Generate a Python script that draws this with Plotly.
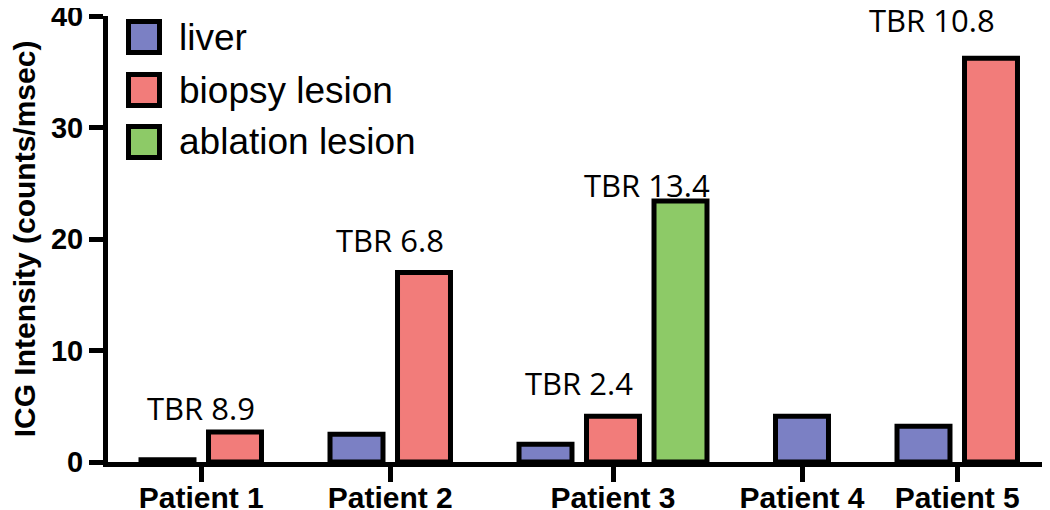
import plotly.graph_objects as go

# data
patients = ["Patient 1", "Patient 2", "Patient 3", "Patient 4", "Patient 5"]
series_names = ["liver", "biopsy lesion", "ablation lesion"]
liver = [0.2, 2.5, 1.6, 4.1, 3.2]
biopsy = [2.7, 17.0, 4.1, None, 36.2]
ablation = [None, None, 23.4, None, None]
tbr_labels = ["TBR 8.9", "TBR 6.8", "TBR 2.4", "TBR 13.4", "TBR 10.8"]
tbr_patient = [0, 1, 2, 2, 4]
y_ticks = [0, 10, 20, 30, 40]

colors = ["#7b80c4", "#f27c7a", "#8dca67"]

# layout constants, in screen pixels; the page body adds an 8px margin
W, H = 1050, 510
OFF = 8
PLOT_L, PLOT_R, PLOT_T, PLOT_B = 108, 1048, 16, 462
L, T = PLOT_L - OFF, PLOT_T - OFF
R, B = W - (PLOT_R - OFF), H - (PLOT_B - OFF)
GAP = 1.8       # distance between patient groups, in bar slots
BAR_W = 0.785   # bar width in slots
OUTLINE = 5

# place the bars: consecutive slots inside a patient, wider gap between patients
values = [liver, biopsy, ablation]
pos = [[None] * len(patients) for _ in values]
centers = []
cursor = 0.0
for i in range(len(patients)):
    slots = []
    for s, vals in enumerate(values):
        if vals[i] is not None:
            pos[s][i] = cursor
            slots.append(cursor)
            cursor += 1
    centers.append(sum(slots) / len(slots))
    cursor += GAP - 1

fig = go.Figure()
for name, vals, p, color in zip(series_names, values, pos, colors):
    xs = [x for x, v in zip(p, vals) if v is not None]
    ys = [v for v in vals if v is not None]
    fig.add_trace(go.Bar(
        x=xs, y=ys, name=name, width=BAR_W,
        marker=dict(color=color, line=dict(color="black", width=OUTLINE)),
        showlegend=False,
    ))

# TBR labels (offsets and heights in slots / data units)
tbr_dx = [0, 0, -0.5, 0.5, -0.37]
tbr_y = [4.8, 19.9, 7.1, 24.8, 39.6]
for text, pi, dx, y in zip(tbr_labels, tbr_patient, tbr_dx, tbr_y):
    fig.add_annotation(
        x=centers[pi] + dx, y=y, text=text, showarrow=False,
        xanchor="center", yanchor="middle",
        font=dict(family="Open Sans", size=31, color="black"),
    )


def px_x(px):
    return (px - PLOT_L) / (PLOT_R - PLOT_L)


def px_y(py):
    return 1 - (py - PLOT_T) / (PLOT_B - PLOT_T)


# legend drawn by hand so the swatches can be large with thick outlines
legend_rows = [37, 90, 142]
for name, color, cy in zip(series_names, colors, legend_rows):
    fig.add_shape(
        type="rect", xref="paper", yref="paper",
        x0=px_x(128.5), x1=px_x(159.5), y0=px_y(cy + 15.5), y1=px_y(cy - 15.5),
        fillcolor=color, line=dict(color="black", width=OUTLINE),
    )
    fig.add_annotation(
        xref="paper", yref="paper", x=px_x(177), y=px_y(cy),
        text=name, showarrow=False, xanchor="left", yanchor="middle",
        font=dict(family="Liberation Sans", size=37, color="black"),
    )

px_per_slot = 67.5
x_left = -(167.5 - PLOT_L) / px_per_slot
x_right = x_left + (PLOT_R - PLOT_L) / px_per_slot

fig.update_layout(
    width=W, height=H,
    margin=dict(l=L, r=R, t=T, b=B),
    plot_bgcolor="white", paper_bgcolor="white",
    barmode="overlay",
    showlegend=False,
    xaxis=dict(
        range=[x_left, x_right], automargin=False,
        tickmode="array", tickvals=centers, ticktext=patients,
        ticks="outside", ticklen=15, tickwidth=5, tickcolor="black",
        ticklabelstandoff=-10, ticklabeloverflow="allow",
        showline=True, linewidth=5, linecolor="black",
        showgrid=False, zeroline=False,
        tickfont=dict(family="Liberation Sans", size=30, color="black", weight="bold"),
    ),
    yaxis=dict(
        range=[0, 40], automargin=False,
        tickmode="array", tickvals=y_ticks,
        ticks="outside", ticklen=14, tickwidth=5, tickcolor="black",
        ticklabeloverflow="allow",
        showline=True, linewidth=5, linecolor="black",
        showgrid=False, zeroline=False,
        tickfont=dict(family="Liberation Sans", size=29, color="black", weight="bold"),
        title=dict(
            text="ICG Intensity (counts/msec)", standoff=10,
            font=dict(family="Liberation Sans", size=30, color="black", weight="bold"),
        ),
    ),
)

fig.write_html("out.html")
